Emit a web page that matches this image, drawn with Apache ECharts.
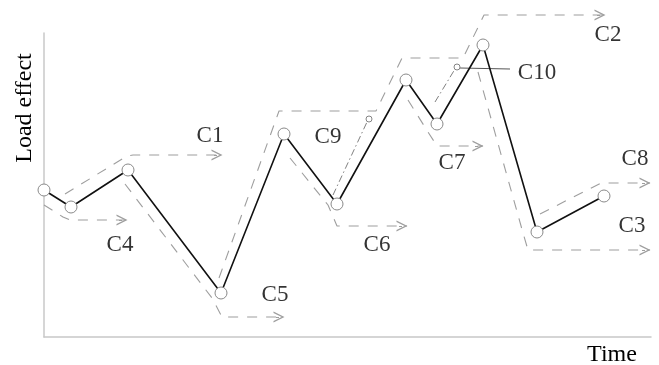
<!DOCTYPE html>
<html>
<head>
<meta charset="utf-8">
<script src="https://cdn.jsdelivr.net/npm/echarts@6/dist/echarts.min.js"></script>
<style>html,body{margin:0;padding:0;background:#fff;}#c{width:659px;height:365px;}</style>
</head>
<body>
<div id="c"></div>
<script>
// Load history (turning points): [time, load]
const loadHistory = [[0,147],[27,130],[84,167],[177,44],[240,203],[293,133],[362,257],[393,213],[439,292],[493,105],[560,141]];

// Rain-flow paths (dashed), each ending in an arrow
const pathC1 = [[21,143],[83,181],[89,182],[178,182]];
const pathC2 = [[175,59],[235,226],[332,226],[358,279],[419,279],[440,322],[561,322]];
const pathC3 = [[434,265],[479,104],[484,87],[606,87]];
const pathC4 = [[0,132],[19,120],[26,117],[83,117]];
const pathC5 = [[81,153],[168,39],[178,20],[240,20]];
const pathC6 = [[246,179],[284,132],[293,111],[363,111]];
const pathC7 = [[364,237],[384,205],[393,191],[439,191]];
const pathC8 = [[496,123],[557,154],[606,154]];

// Interrupted paths (dash-dot) ending in a small circle
const pathC9 = [[289,142],[323,215]];
const pathC10 = [[391,235],[411,268]];
const stopPoints = [[325,218],[413,270]];
const pointerC10 = [[416,269],[466,268]];

// Cycle labels
const labelNames = ['C1','C2','C3','C4','C5','C6','C7','C8','C9','C10'];
const labelAnchors = [[166,201],[564,302],[588,111],[76,92],[231,42],[333,92],[408,174],[591,178],[284,200],[493,264]];

const arrowPaths = [pathC1,pathC2,pathC3,pathC4,pathC5,pathC6,pathC7,pathC8];

const FONT = '"Liberation Serif","Times New Roman",serif';
const DASH_COLOR = '#9e9e9e';

const series = [];
arrowPaths.forEach(p => {
  series.push({
    type: 'line', data: p, showSymbol: false, clip: false, silent: true,
    lineStyle: { color: DASH_COLOR, width: 1.1, type: [10, 9] }, z: 2
  });
});
[pathC9, pathC10].forEach(p => {
  series.push({
    type: 'line', data: p, showSymbol: false, clip: false, silent: true,
    lineStyle: { color: '#808080', width: 1, type: [7, 3, 1.5, 3] }, z: 2
  });
});
series.push({
  type: 'line', data: pointerC10, showSymbol: false, clip: false, silent: true,
  lineStyle: { color: '#555', width: 1 }, z: 2
});
// arrow heads at the end of each dashed path
series.push({
  type: 'lines', coordinateSystem: 'cartesian2d', clip: false, silent: true,
  symbol: ['none', 'path://M0,10 L5,0 L10,10 L8.6,10 L5,2.6 L1.4,10 Z'],
  symbolSize: [7, 11],
  lineStyle: { color: DASH_COLOR, width: 1, opacity: 1 },
  data: arrowPaths.map(p => {
    const e = p[p.length - 1];
    return { coords: [[e[0] - 8, e[1]], [e[0] - 5, e[1]]] };
  }), z: 3
});
// main load history
series.push({
  type: 'line', data: loadHistory, clip: false, symbol: 'circle', symbolSize: 12, showSymbol: true,
  lineStyle: { color: '#111', width: 1.6 },
  itemStyle: { color: '#fff', borderColor: '#8a8a8a', borderWidth: 1 }, z: 5
});
// small stop circles
series.push({
  type: 'scatter', data: stopPoints, symbol: 'circle', symbolSize: 6, clip: false,
  itemStyle: { color: '#fff', borderColor: '#666', borderWidth: 1 }, z: 6
});
// labels
series.push({
  type: 'scatter', symbolSize: 0, clip: false, silent: true,
  data: labelAnchors.map((a, i) => ({ value: a, name: labelNames[i] })),
  label: { show: true, position: [0, 0], formatter: '{b}', color: '#000',
    textBorderWidth: 0, textBorderColor: 'transparent',
    fontFamily: FONT, fontSize: 23, align: 'center', verticalAlign: 'middle' },
  z: 7
});

const chart = echarts.init(document.getElementById('c'), null, { renderer: 'canvas' });
chart.setOption({
  backgroundColor: '#fff',
  animation: false,
  grid: { left: 44, top: 33, width: 607, height: 304, containLabel: false },
  xAxis: {
    type: 'value', min: 0, max: 607,
    axisLine: { show: true, lineStyle: { color: '#c8c8c8', width: 1.5 } },
    axisTick: { show: false }, axisLabel: { show: false }, splitLine: { show: false }
  },
  yAxis: {
    type: 'value', min: 0, max: 304,
    axisLine: { show: true, lineStyle: { color: '#c8c8c8', width: 1.5 } },
    axisTick: { show: false }, axisLabel: { show: false }, splitLine: { show: false }
  },
  graphic: [
    { type: 'text', x: 25, y: 108, rotation: Math.PI / 2,
      style: { text: 'Load effect', fontFamily: FONT, fontSize: 24, fill: '#000', align: 'center', verticalAlign: 'middle' } },
    { type: 'text', x: 612, y: 355,
      style: { text: 'Time', fontFamily: FONT, fontSize: 24, fill: '#000', align: 'center', verticalAlign: 'middle' } }
  ],
  series: series
});
</script>
</body>
</html>
